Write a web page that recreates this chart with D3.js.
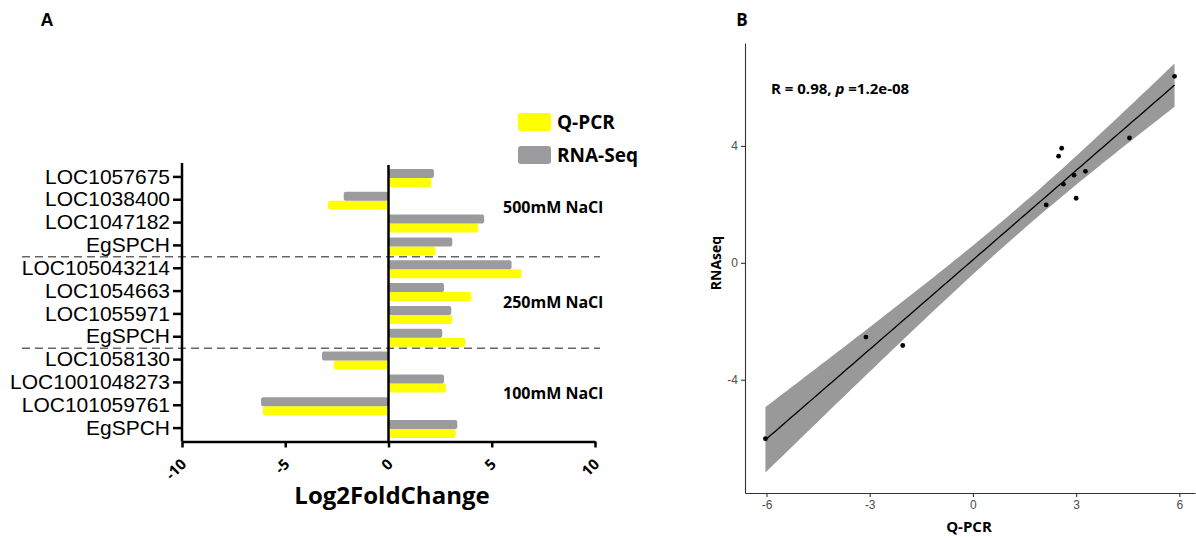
<!DOCTYPE html>
<html lang="en">
  <head>
    <meta charset="utf-8">
    <title>Q-PCR vs RNA-Seq</title>
    <script src="https://d3js.org/d3.v7.min.js"></script>
    <style>
      body { margin: 0; background: #fff; }
      .bold { font-family: "Open Sans", sans-serif; font-weight: 700; }
      .axisA .domain, .axisA line { stroke: #000; stroke-width: 2.5px; }
      .axisA text { fill: #000; }
      .axisB .domain, .axisB line { stroke: #333; stroke-width: 1.1px; }
      .axisB text { fill: #4d4d4d; font-family: "Liberation Sans", Arial, sans-serif; font-size: 12px; }
    </style>
  </head>
  <body>
    <svg id="chart" width="1196" height="538" xmlns="http://www.w3.org/2000/svg"></svg>
    <script>
      // panel A: log2 fold change per gene, top to bottom
      const genes = ['LOC1057675','LOC1038400','LOC1047182','EgSPCH',
                     'LOC105043214','LOC1054663','LOC1055971','EgSPCH',
                     'LOC1058130','LOC1001048273','LOC101059761','EgSPCH'];
      const qpcr   = [2.07, -2.93, 4.35, 2.28, 6.44, 4.01, 3.09, 3.72, -2.65, 2.78, -6.08, 3.25];
      const rnaseq = [2.20, -2.17, 4.63, 3.09, 5.96, 2.69, 3.04, 2.60, -3.22, 2.69, -6.17, 3.33];
      const groups = ['500mM NaCl', '250mM NaCl', '100mM NaCl'];
      const series = ['Q-PCR', 'RNA-Seq'];
      const colors = {'Q-PCR': '#ffff00', 'RNA-Seq': '#9b9b9d'};
      const xTicksA = [-10, -5, 0, 5, 10];

      // panel B: scatter of the same comparison
      const scatterQpcr   = [5.86, 4.55, 2.58, 2.49, 2.63, 2.94, 3.27, 3.00, 2.13, -3.11, -2.04, -6.03];
      const scatterRnaseq = [6.38, 4.27, 3.92, 3.65, 2.69, 3.00, 3.13, 2.21, 1.98, -2.54, -2.83, -6.02];
      const xTicksB = [-6, -3, 0, 3, 6];
      const yTicksB = [-4, 0, 4];
      const tCrit = 2.228; // t(0.975, df = 10)

      const svg = d3.select('#chart');
      svg.append('rect').attr('width', 1196).attr('height', 538).attr('fill', '#fff');

      // ---------- panel A ----------
      const xA = d3.scaleLinear().domain([-10, 10]).range([182, 595]);
      const yA = d3.scaleBand().domain(d3.range(genes.length)).range([165.5, 439.5]);
      const sub = d3.scaleBand().domain(['RNA-Seq', 'Q-PCR']).range([-8, 10]);
      const bw = yA.bandwidth();

      svg.append('text').attr('x', 47).attr('y', 20).attr('dy', '0.35em')
        .attr('text-anchor', 'middle')
        .style('font-family', '"Liberation Sans", Arial, sans-serif')
        .style('font-weight', 700).style('font-size', '18px').text('A');

      // group separators
      svg.selectAll('.sep').data([4, 8]).join('line')
        .attr('class', 'sep')
        .attr('x1', 22).attr('x2', 600)
        .attr('y1', d => yA(d)).attr('y2', d => yA(d))
        .attr('stroke', '#666').attr('stroke-width', 1.5)
        .attr('stroke-dasharray', '8,5');

      const rows = genes.map((g, i) => ({i: i, 'Q-PCR': qpcr[i], 'RNA-Seq': rnaseq[i]}));
      const bars = [];
      rows.forEach(r => series.forEach(s => bars.push({i: r.i, s: s, v: r[s]})));

      svg.append('g').selectAll('rect').data(bars).join('rect')
        .attr('x', d => xA(Math.min(0, d.v)))
        .attr('width', d => Math.abs(xA(d.v) - xA(0)))
        .attr('y', d => yA(d.i) + bw / 2 + sub(d.s))
        .attr('height', sub.bandwidth())
        .attr('rx', 2)
        .attr('fill', d => colors[d.s]);

      // zero line
      svg.append('line')
        .attr('x1', xA(0)).attr('x2', xA(0))
        .attr('y1', 165).attr('y2', 441.5)
        .attr('stroke', '#000').attr('stroke-width', 2.5);

      const yAxisA = svg.append('g').attr('class', 'axisA')
        .attr('transform', `translate(${xA(-10)},0)`)
        .call(d3.axisLeft(yA).tickFormat(i => genes[i]).tickSize(9).tickSizeOuter(0).tickPadding(3));
      yAxisA.select('.domain').attr('d', `M0,163V441.5`);
      yAxisA.selectAll('text')
        .style('font-family', '"Liberation Sans", Arial, sans-serif')
        .style('font-size', '21px');

      const xAxisA = svg.append('g').attr('class', 'axisA')
        .attr('transform', 'translate(0,441.5)')
        .call(d3.axisBottom(xA).tickValues(xTicksA).tickFormat(d => String(d))
          .tickSize(6).tickSizeOuter(0));
      xAxisA.selectAll('text')
        .attr('class', 'bold')
        .style('font-size', '15px')
        .attr('text-anchor', 'end')
        .attr('y', 0).attr('dy', '0.35em')
        .attr('transform', 'translate(1,20) rotate(-45)');

      svg.append('text').attr('class', 'bold')
        .attr('x', 392).attr('y', 504)
        .attr('text-anchor', 'middle')
        .style('font-size', '24px')
        .text('Log2FoldChange');

      // legend
      const legend = svg.append('g').selectAll('g').data(series).join('g')
        .attr('transform', (d, i) => `translate(518,${122 + i * 33})`);
      legend.append('rect')
        .attr('x', 0).attr('y', -9).attr('width', 33).attr('height', 18)
        .attr('rx', 3).attr('fill', d => colors[d]);
      legend.append('text').attr('class', 'bold')
        .attr('x', 39).attr('dy', '0.35em')
        .style('font-size', '19px')
        .text(d => d);

      // group labels
      svg.selectAll('.grp').data(groups).join('text')
        .attr('class', 'bold grp')
        .attr('x', 503)
        .attr('y', (d, g) => yA(g * 4) + 2 * bw - (g === 0 ? 4 : 0))
        .attr('dy', '0.35em')
        .style('font-size', '16px')
        .text(d => d);

      // ---------- panel B ----------
      const pts = scatterQpcr.map((x, i) => ({x: x, y: scatterRnaseq[i]}));
      const n = pts.length;
      const mx = d3.mean(pts, d => d.x), my = d3.mean(pts, d => d.y);
      const sxx = d3.sum(pts, d => (d.x - mx) ** 2);
      const sxy = d3.sum(pts, d => (d.x - mx) * (d.y - my));
      const slope = sxy / sxx, icpt = my - slope * mx;
      const sse = d3.sum(pts, d => (d.y - icpt - slope * d.x) ** 2);
      const s = Math.sqrt(sse / (n - 2));
      const xExt = d3.extent(pts, d => d.x);
      const fit = d3.range(81).map(k => {
        const x = xExt[0] + (xExt[1] - xExt[0]) * k / 80;
        const yhat = icpt + slope * x;
        const half = tCrit * s * Math.sqrt(1 / n + (x - mx) ** 2 / sxx);
        return {x: x, y: yhat, lo: yhat - half, hi: yhat + half};
      });

      const pad = (e) => { const r = e[1] - e[0]; return [e[0] - 0.05 * r, e[1] + 0.05 * r]; };
      const yExt = [Math.min(d3.min(pts, d => d.y), d3.min(fit, d => d.lo)),
                    Math.max(d3.max(pts, d => d.y), d3.max(fit, d => d.hi))];
      const xB = d3.scaleLinear().domain(pad(xExt)).range([745, 1195]);
      const yB = d3.scaleLinear().domain(pad(yExt)).range([493, 43]);

      svg.append('text').attr('class', 'bold')
        .attr('x', 742).attr('y', 20).attr('dy', '0.35em')
        .attr('text-anchor', 'middle')
        .style('font-size', '17px').text('B');

      svg.append('path').datum(fit)
        .attr('fill', '#999999')
        .attr('d', d3.area().x(d => xB(d.x)).y0(d => yB(d.lo)).y1(d => yB(d.hi)));
      svg.append('path').datum(fit)
        .attr('fill', 'none').attr('stroke', '#000').attr('stroke-width', 1.3)
        .attr('d', d3.line().x(d => xB(d.x)).y(d => yB(d.y)));

      svg.append('g').selectAll('circle').data(pts).join('circle')
        .attr('cx', d => xB(d.x)).attr('cy', d => yB(d.y))
        .attr('r', 2.4).attr('fill', '#000');

      svg.append('g').attr('class', 'axisB')
        .attr('transform', 'translate(0,493)')
        .call(d3.axisBottom(xB).tickValues(xTicksB).tickFormat(d => String(d))
          .tickSize(4).tickSizeOuter(0).tickPadding(3));
      svg.append('g').attr('class', 'axisB')
        .attr('transform', 'translate(745,0)')
        .call(d3.axisLeft(yB).tickValues(yTicksB).tickFormat(d => String(d))
          .tickSize(4).tickSizeOuter(0).tickPadding(3));

      svg.append('text').attr('class', 'bold')
        .attr('x', 969).attr('y', 532).attr('text-anchor', 'middle')
        .style('font-size', '15px').text('Q-PCR');
      svg.append('text').attr('class', 'bold')
        .attr('transform', 'translate(721,263) rotate(-90)')
        .attr('text-anchor', 'middle')
        .style('font-size', '14px').text('RNAseq');

      const ann = svg.append('text').attr('class', 'bold')
        .attr('x', 771).attr('y', 89).attr('dy', '0.35em')
        .style('font-size', '15px');
      ann.append('tspan').text('R = 0.98, ');
      ann.append('tspan').style('font-style', 'italic').text('p');
      ann.append('tspan').text(' =1.2e-08');
    </script>
  </body>
</html>
